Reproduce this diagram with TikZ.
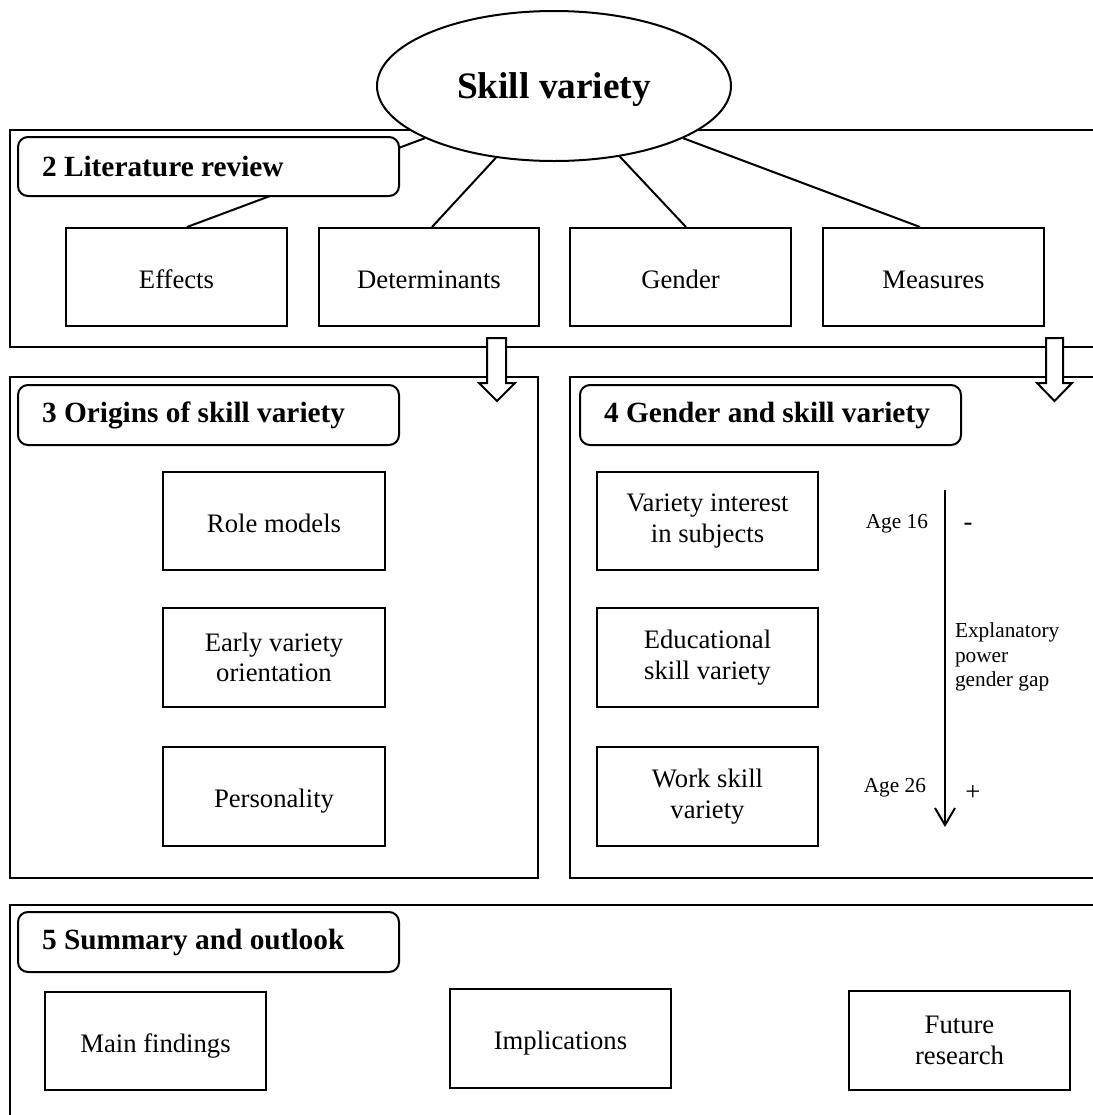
\documentclass[tikz,border=0pt]{standalone}
\usepackage{fontspec}
\setmainfont{Liberation Serif}
\usetikzlibrary{arrows.meta,shapes.geometric}
% heading text set flush left in a fixed-width box
\newcommand{\headtxt}[1]{\makebox[249.75pt][l]{#1}}

\begin{document}
\begin{tikzpicture}[x=0.75pt,y=-0.75pt,line width=1.5pt,
  frame/.style={draw,line width=1.5pt},
  topic/.style={draw,rectangle,line width=1.5pt,inner sep=0pt,
    minimum width=165.75pt,minimum height=73.5pt,align=center,
    font=\fontsize{20}{23}\selectfont},
  oneline/.style={text height=16.5pt,text depth=0pt},
  heading/.style={draw,fill=white,rectangle,rounded corners=7.5pt,
    line width=1.5pt,minimum height=45pt,
    inner xsep=18pt,inner ysep=0pt,
    font=\fontsize{22}{26}\selectfont\bfseries},
  link/.style={draw,line width=1.5pt},
  blockarrow/.style={draw,fill=white,line width=1.5pt,line join=miter},
  note/.style={font=\fontsize{16}{18.4}\selectfont,inner sep=0pt},
  sign/.style={font=\fontsize{20}{23}\selectfont,inner sep=0pt},
]
% page area
\clip (0,0) rectangle (1093,1115);

% section frames (open to the right)
\draw[frame] (1120,130) -- (10,130) -- (10,347) -- (1120,347);
\draw[frame] (10,377) rectangle (538,878);
\draw[frame] (1120,377) -- (570,377) -- (570,878) -- (1120,878);
\draw[frame] (1120,905) -- (10,905) -- (10,1140);

% central topic
\node[draw,ellipse,fill=white,line width=1.5pt,inner sep=0pt,
      minimum width=265.5pt,minimum height=112.5pt,text depth=0pt,
      font=\fontsize{28}{32}\selectfont\bfseries] (sv) at (554,86) {Skill variety};

% literature review topics
\node[topic,oneline] (eff) at (176.5,277) {Effects};
\node[topic,oneline,minimum width=165pt] (det) at (429,277) {Determinants};
\node[topic,oneline] (gen) at (680.5,277) {Gender};
\node[topic,oneline] (mea) at (933.5,277) {Measures};

\draw[link] ([xshift=7.9pt]eff.north) -- (sv.202.4);
\draw[link] ([xshift=2.25pt]det.north) -- (sv.231.2);
\draw[link] ([xshift=4.1pt]gen.north) -- (sv.313.3);
\draw[link] ([xshift=-10.1pt]mea.north) -- (sv.338.4);

% section headings
\node[heading,minimum height=44.25pt] (h2) at (208.5,166.5) {\headtxt{2 Literature review}};
\node[heading] (h3) at (208.5,415) {\headtxt{3 Origins of skill variety}};
\node[heading] (h4) at (770.5,415) {\headtxt{4 Gender and skill variety}};
\node[heading] (h5) at (208.5,942) {\headtxt{5 Summary and outlook}};

% origins
\node[topic,oneline,minimum width=166.5pt] (role) at (274,521) {Role models};
\node[topic,minimum width=166.5pt,minimum height=74.25pt] (early) at (274,657.5) {Early variety\\orientation};
\node[topic,oneline,minimum width=166.5pt,minimum height=74.25pt] (pers) at (274,796.5) {Personality};

% gender and skill variety
\node[topic] (var) at (707.5,521) {Variety interest\\in subjects};
\node[topic,minimum height=74.25pt] (edu) at (707.5,657.5) {Educational\\skill variety};
\node[topic,minimum height=74.25pt] (work) at (707.5,796.5) {Work skill\\variety};

\coordinate (agetop) at (945,490);
\coordinate (agebot) at (945,827);
\draw[-{Straight Barb[length=12.75pt,width=15pt]}] (agetop) -- (agebot);
\node[note,anchor=base east] (a16) at (929,528) {Age 16};
\node[note,anchor=base east] (a26) at (927,792) {Age 26};
\node[sign] (minus) at (968,527) {-};
\node[sign] (plus) at (973,793) {+};
\node[note,anchor=north west,align=left] (expl) at (954,621.7) {Explanatory\\power\\gender gap};

% summary
\node[topic,oneline] (main) at (155.5,1041) {Main findings};
\node[topic,oneline,minimum height=74.25pt] (impl) at (560.5,1038.5) {Implications};
\node[topic,minimum height=74.25pt] (fut) at (959.5,1040.5) {Future\\research};

% block arrows between sections
\draw[blockarrow] (487,338) -- (487,383) -- (479,383) -- (497,401) -- (515,383)
  -- (506,383) -- (506,338) -- cycle;
\draw[blockarrow] (1046,338) -- (1046,383) -- (1037,383) -- (1054.5,401) -- (1072,383)
  -- (1063,383) -- (1063,338) -- cycle;
\end{tikzpicture}
\end{document}
